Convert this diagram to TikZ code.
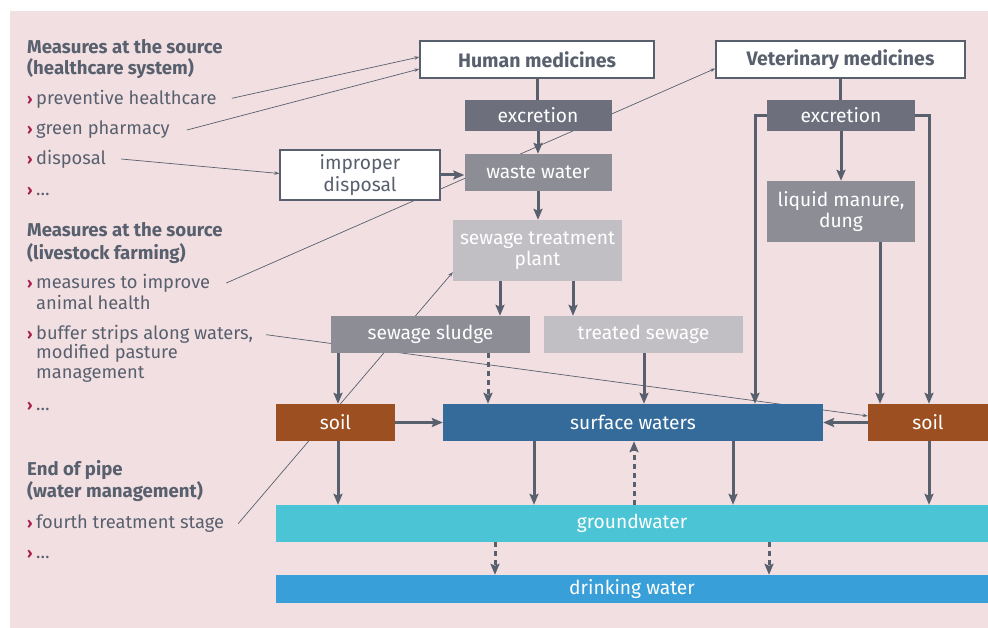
\documentclass[tikz,border=0pt]{standalone}
\usepackage{fontspec}
\setmainfont{Fira Sans}
\usetikzlibrary{arrows.meta}
\definecolor{bgpink}{HTML}{F2DFE2}
\definecolor{tgray}{HTML}{58606E}
\definecolor{agray}{HTML}{58606E}
\definecolor{chev}{HTML}{A61E4D}
\definecolor{exc}{HTML}{6D707C}
\definecolor{midg}{HTML}{8D8D96}
\definecolor{lightg}{HTML}{C1BFC4}
\definecolor{soilc}{HTML}{9C4F21}
\definecolor{swc}{HTML}{356B9A}
\definecolor{gwc}{HTML}{4BC4D6}
\definecolor{dwc}{HTML}{389FD9}
\newcommand\myLfont{\fontsize{18.3}{20}\selectfont}
\newcommand\myHfont{\fontsize{18.6}{20}\selectfont\bfseries}
\newcommand\myBfont{\fontsize{19.2}{21}\selectfont}
\newcommand\myCfont{\fontsize{15}{16}\selectfont\bfseries}
\pgfdeclarelayer{back}
\pgfdeclarelayer{mid}
\pgfsetlayers{back,mid,main}
\begin{document}
\begin{tikzpicture}[x=1pt,y=-1pt,
  lbl/.style={inner sep=0pt, anchor=base west, text=tgray, font=\myLfont},
  hd/.style={lbl, font=\myHfont},
  chv/.style={inner sep=0pt, anchor=base west, text=chev, font=\myCfont},
  box/.style={inner sep=0pt, text=white, font=\myBfont, align=center},
  wbox/.style={box, draw=tgray, line width=1.4pt, fill=white, text=tgray},
  flow/.style={draw=agray, line width=3pt, -{Stealth[length=11pt,width=9pt,inset=2pt]}},
  dflow/.style={flow, dash pattern=on 5pt off 4pt},
  plain/.style={draw=agray, line width=3pt},
  thin/.style={draw=agray, line width=0.7pt, -{Stealth[length=5pt,width=3.5pt]}},
]
\useasboundingbox (0,0) rectangle (988,628);
\begin{pgfonlayer}{back}
\fill[white] (0,0) rectangle (988,628);
\fill[bgpink] (10,11) rectangle (988,628);
\end{pgfonlayer}

% left column
\node[hd] (h1a) at (27,54) {Measures at the source};
\node[hd] (h1b) at (27,75) {(healthcare system)};
\node[chv] (c1) at (27,105) {›};
\node[lbl] (i1) at (36,105) {preventive healthcare};
\node[chv] (c2) at (27,135) {›};
\node[lbl] (i2) at (36,135) {green pharmacy};
\node[chv] (c3) at (27,165) {›};
\node[lbl] (i3) at (36,165) {disposal};
\node[chv] (c4) at (27,196) {›};
\node[lbl] (i4) at (36,196) {…};

\node[hd] (h2a) at (27,237) {Measures at the source};
\node[hd] (h2b) at (27,260) {(livestock farming)};
\node[chv] (c5) at (27,289) {›};
\node[lbl] (i5a) at (36,289) {measures to improve};
\node[lbl] (i5b) at (36,309) {animal health};
\node[chv] (c6) at (27,339) {›};
\node[lbl] (i6a) at (36,339) {buffer strips along waters,};
\node[lbl] (i6b) at (36,359) {modified pasture};
\node[lbl] (i6c) at (36,378) {management};
\node[chv] (c7) at (27,410) {›};
\node[lbl] (i7) at (36,410) {…};

\node[hd] (h3a) at (27,475) {End of pipe};
\node[hd] (h3b) at (27,497) {(water management)};
\node[chv] (c8) at (27,528) {›};
\node[lbl] (i8) at (36,528) {fourth treatment stage};
\node[chv] (c9) at (27,558) {›};
\node[lbl] (i9) at (36,558) {…};

% boxes
\node[wbox, minimum width=234pt, minimum height=37pt, font=\fontsize{19.5}{21}\selectfont\bfseries] (hum) at (537,59.5) {Human medicines};
\node[wbox, minimum width=249pt, minimum height=37pt, font=\fontsize{19.5}{21}\selectfont\bfseries] (vet) at (840.5,59.5) {Veterinary medicines};
\node[box, fill=exc, minimum width=147pt, minimum height=31pt] (exl) at (538,115.5) {excretion};
\node[box, fill=midg, minimum width=147pt, minimum height=37pt] (ww) at (538,172.5) {waste water};
\node[wbox, minimum width=160pt, minimum height=50pt, font=\fontsize{19.2}{22}\selectfont] (imp) at (360,175) {improper\\disposal};
\node[box, fill=lightg, minimum width=169pt, minimum height=61pt] (stp) at (537.5,250.5) {sewage treatment\\plant};
\node[box, fill=midg, minimum width=199pt, minimum height=37pt] (ssl) at (430.5,334.5) {sewage sludge};
\node[box, fill=lightg, minimum width=199pt, minimum height=37pt] (tsw) at (643.5,334.5) {treated sewage};
\node[box, fill=exc, minimum width=148pt, minimum height=31pt] (exr) at (841,115.5) {excretion};
\node[box, fill=midg, minimum width=148pt, minimum height=61pt] (lmd) at (841,211.5) {liquid manure,\\dung};
\node[box, fill=soilc, minimum width=119pt, minimum height=37pt] (soilL) at (335.5,422.5) {soil};
\node[box, fill=swc, minimum width=380pt, minimum height=37pt] (sw) at (633,422.5) {surface waters};
\node[box, fill=soilc, minimum width=120pt, minimum height=37pt] (soilR) at (928,422.5) {soil};
\node[box, fill=gwc, minimum width=712pt, minimum height=37pt] (gw) at (632,523.5) {groundwater};
\node[box, fill=dwc, minimum width=712pt, minimum height=28pt] (dw) at (632,589) {drinking water};

% x positions of vertical connectors
\coordinate (xa) at (500,0);
\coordinate (xb) at (573,0);
\coordinate (xc) at (338,0);
\coordinate (xd) at (488,0);
\coordinate (xe) at (644,0);
\coordinate (xf) at (755,0);
\coordinate (xg) at (880,0);
\coordinate (xh) at (534,0);
\coordinate (xi) at (733,0);
\coordinate (xj) at (634,0);
\coordinate (xk) at (929,0);
\coordinate (xl) at (495,0);
\coordinate (xm) at (769,0);

% thick connectors
\draw[plain] (hum.south) -- (hum.south |- exl.north);
\draw[flow] (exl.south) -- (ww.north);
\draw[flow] (ww.south) -- (ww.south |- stp.north);
\draw[flow] (imp.east) -- (imp.east -| ww.west);
\draw[flow] (xa |- stp.south) -- (xa |- ssl.north);
\draw[flow] (xb |- stp.south) -- (xb |- tsw.north);
\draw[flow] (xc |- ssl.south) -- (xc |- soilL.north);
\draw[dflow] (xd |- ssl.south) -- (xd |- sw.north);
\draw[flow] (xe |- tsw.south) -- (xe |- sw.north);
\draw[plain] (vet.south) -- (vet.south |- exr.north);
\draw[flow] (exr.south) -- (lmd.north);
\draw[flow] (exr.west) -| (xf |- sw.north);
\draw[flow] (exr.east) -| (xk |- soilR.north);
\draw[flow] (xg |- lmd.south) -- (xg |- soilR.north);
\draw[flow] (soilL.east) -- (sw.west);
\draw[flow] (soilR.west) -- (sw.east);
\draw[flow] (xc |- soilL.south) -- (xc |- gw.north);
\draw[flow] (xh |- sw.south) -- (xh |- gw.north);
\draw[flow] (xi |- sw.south) -- (xi |- gw.north);
\draw[dflow] (xj |- gw.north) -- (xj |- sw.south);
\draw[flow] (xk |- soilR.south) -- (xk |- gw.north);
\draw[dflow] (xl |- gw.south) -- (xl |- dw.north);
\draw[dflow] (xm |- gw.south) -- (xm |- dw.north);

% thin connectors (behind boxes)
\begin{pgfonlayer}{mid}
\draw[thin] ([xshift=15pt,yshift=6.7pt]i1.base east) -- ([yshift=2.5pt]hum.west);
\draw[thin] ([xshift=17pt,yshift=5pt]i2.base east) -- ([yshift=-9.5pt]hum.west);
\draw[thin] ([xshift=15pt,yshift=6pt]i3.base east) -- ([yshift=1.5pt]imp.west);
\draw[thin] ([xshift=16pt,yshift=6pt]i5a.base east) -- ([yshift=-9pt]vet.west);
\draw[thin] ([xshift=13pt,yshift=4.3pt]i6a.base east) -- ([yshift=6.5pt]soilR.west);
\draw[thin] ([xshift=14pt,yshift=4.4pt]i8.base east) -- ([yshift=9pt]stp.south west);
\end{pgfonlayer}
\end{tikzpicture}
\end{document}
